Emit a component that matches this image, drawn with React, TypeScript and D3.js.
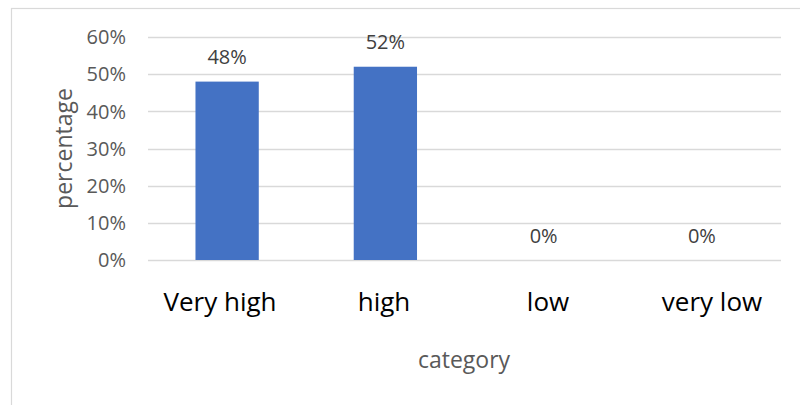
import React from "react";
import * as d3 from "d3";

// Share of responses per rating category
const categories: string[] = ["Very high", "high", "low", "very low"];
const values: number[] = [0.48, 0.52, 0, 0];
const yTicks: number[] = [0, 0.1, 0.2, 0.3, 0.4, 0.5, 0.6];

const W = 800;
const H = 405;
const FONT = "'Open Sans', 'Noto Sans', sans-serif";

export default function App() {
  const plot = { left: 148, right: 781, top: 37, bottom: 260 };

  const x = d3
    .scaleBand<string>()
    .domain(categories)
    .range([plot.left, plot.right])
    .paddingInner(0.6)
    .paddingOuter(0.3);

  // category captions sit on a slightly wider spread than the bars
  const xLabel = d3.scalePoint<string>().domain(categories).range([220, 712]);

  const y = d3.scaleLinear().domain([0, 0.6]).range([plot.bottom, plot.top]);
  const fmt = d3.format(".0%");

  return (
    <svg
      width={W}
      height={H}
      style={{ position: "fixed", left: 0, top: 0, background: "#fff" }}
      fontFamily={FONT}
    >
      <rect x={0} y={0} width={W} height={H} fill="#fff" />
      {/* chart area frame */}
      <rect
        x={11.5}
        y={8.5}
        width={W + 20}
        height={H + 20}
        fill="none"
        stroke="#d9d9d9"
        strokeWidth={1.2}
      />

      {/* gridlines and y tick labels */}
      {yTicks.map((t) => (
        <g key={t}>
          <line
            x1={plot.left}
            x2={plot.right}
            y1={Math.round(y(t)) + 0.5}
            y2={Math.round(y(t)) + 0.5}
            stroke="#d9d9d9"
            strokeWidth={1.3}
          />
          <text
            x={126}
            y={y(t)}
            dy="0.36em"
            textAnchor="end"
            fontSize={20}
            fill="#595959"
          >
            {fmt(t)}
          </text>
        </g>
      ))}

      {/* bars */}
      {categories.map((c, i) => (
        <rect
          key={c}
          x={x(c)!}
          y={y(values[i])}
          width={x.bandwidth()}
          height={plot.bottom - y(values[i])}
          fill="#4472C4"
        />
      ))}

      {/* value labels */}
      {categories.map((c, i) => (
        <text
          key={c}
          x={x(c)! + x.bandwidth() / 2}
          y={y(values[i]) - 17.5}
          textAnchor="middle"
          fontSize={20}
          fill="#404040"
        >
          {fmt(values[i])}
        </text>
      ))}

      {/* category labels */}
      {categories.map((c) => (
        <text
          key={c}
          x={xLabel(c)!}
          y={311}
          textAnchor="middle"
          fontSize={26}
          fill="#000"
        >
          {c}
        </text>
      ))}

      {/* axis titles */}
      <text x={464} y={368} textAnchor="middle" fontSize={23} fill="#595959">
        category
      </text>
      <text
        transform={`translate(72, ${(plot.top + plot.bottom) / 2}) rotate(-90)`}
        textAnchor="middle"
        fontSize={23}
        fill="#595959"
      >
        percentage
      </text>
    </svg>
  );
}
